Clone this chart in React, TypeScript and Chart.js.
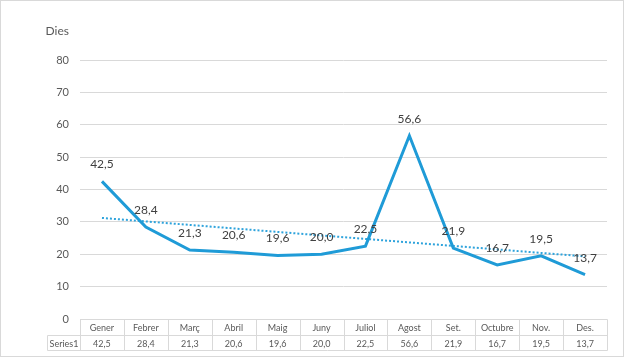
import React, { useEffect, useRef } from "react";
import { Chart, registerables } from "chart.js";

Chart.register(...registerables);

const categories = ["Gener", "Febrer", "Març", "Abril", "Maig", "Juny", "Juliol", "Agost", "Set.", "Octubre", "Nov.", "Des."];
const seriesName = "Series1";
const values = [42.5, 28.4, 21.3, 20.6, 19.6, 20.0, 22.5, 56.6, 21.9, 16.7, 19.5, 13.7];
const axisTitle = "Dies";
const yMin = 0;
const yMax = 80;
const yStep = 10;

const FONT = "Lato, 'Open Sans', sans-serif";
const LINE_COLOR = "#1f9bd7";
const GRID = "#d9d9d9";
const TEXT = "#595959";

const fmt = (v: number) => v.toFixed(1).replace(".", ",");

// linear least-squares trend of the series (Excel linear trendline)
function linearTrend(ys: number[]): number[] {
  const n = ys.length;
  const mx = (n + 1) / 2;
  const my = ys.reduce((a, b) => a + b, 0) / n;
  let sxy = 0, sxx = 0;
  ys.forEach((y, i) => {
    const dx = i + 1 - mx;
    sxy += dx * (y - my);
    sxx += dx * dx;
  });
  const slope = sxy / sxx;
  return ys.map((_, i) => my + slope * (i + 1 - mx));
}

const extrasPlugin = {
  id: "extras",
  afterDraw(chart: any) {
    const ctx = chart.ctx as CanvasRenderingContext2D;
    const area = chart.chartArea;
    const n = categories.length;
    const w = (area.right - area.left) / n;
    const top = Math.round(area.bottom) + 0.5;
    const mid = top + 16;
    const bot = mid + 15;
    const labelLeft = 46.5;
    ctx.save();
    // data labels
    const meta = chart.getDatasetMeta(0);
    ctx.font = `12px ${FONT}`;
    ctx.fillStyle = "#404040";
    ctx.textAlign = "center";
    ctx.textBaseline = "middle";
    meta.data.forEach((pt: any, i: number) => {
      ctx.fillText(fmt(values[i]), pt.x, pt.y - 17);
    });
    // axis title
    ctx.font = `12px ${FONT}`;
    ctx.fillStyle = TEXT;
    ctx.textAlign = "right";
    ctx.fillText(axisTitle, 68, 30);
    // data table
    ctx.strokeStyle = GRID;
    ctx.lineWidth = 1;
    ctx.beginPath();
    const L = Math.round(area.left) + 0.5;
    const R = Math.round(area.right) + 0.5;
    ctx.moveTo(L, top); ctx.lineTo(R, top);
    ctx.moveTo(labelLeft, mid); ctx.lineTo(R, mid);
    ctx.moveTo(labelLeft, bot); ctx.lineTo(R, bot);
    ctx.moveTo(labelLeft, mid); ctx.lineTo(labelLeft, bot);
    for (let i = 0; i <= n; i++) {
      const x = Math.round(area.left + i * w) + 0.5;
      ctx.moveTo(x, top); ctx.lineTo(x, bot);
    }
    ctx.stroke();
    ctx.font = `9px ${FONT}`;
    ctx.fillStyle = TEXT;
    ctx.textAlign = "center";
    categories.forEach((c, i) => {
      const cx = area.left + (i + 0.5) * w;
      ctx.fillText(c, cx, (top + mid) / 2 + 1);
      ctx.fillText(fmt(values[i]), cx, (mid + bot) / 2 + 1);
    });
    ctx.fillText(seriesName, (labelLeft + L) / 2, (mid + bot) / 2 + 1);
    ctx.restore();
  },
};

export default function App() {
  const ref = useRef<HTMLCanvasElement>(null);
  useEffect(() => {
    if (!ref.current) return;
    const trend = linearTrend(values);
    const chart = new Chart(ref.current, {
      type: "line",
      data: {
        labels: categories,
        datasets: [
          {
            label: seriesName,
            data: values,
            borderColor: LINE_COLOR,
            borderWidth: 3,
            pointRadius: 0,
            tension: 0,
            fill: false,
          },
          {
            label: "trend",
            data: trend,
            borderColor: "#2ea3dc",
            borderWidth: 2,
            borderDash: [2, 2],
            pointRadius: 0,
            fill: false,
          },
        ],
      },
      options: {
        animation: false,
        responsive: false,
        layout: { padding: { left: 0, right: 16, top: 59, bottom: 37 } },
        plugins: { legend: { display: false }, tooltip: { enabled: false } },
        scales: {
          x: { display: false, offset: true },
          y: {
            min: yMin,
            max: yMax,
            ticks: { stepSize: yStep, padding: 11, color: TEXT, font: { size: 11, family: FONT } },
            grid: { color: GRID, drawTicks: false },
            border: { display: false },
            afterFit: (s: any) => { s.width = 79; },
          },
        },
      },
      plugins: [extrasPlugin],
    });
    return () => chart.destroy();
  }, []);
  return (
    <div style={{ position: "fixed", left: 0, top: 0, width: 624, height: 357, boxSizing: "border-box", border: "1px solid #d9d9d9", background: "#fff" }}>
      <canvas ref={ref} width={622} height={355} style={{ display: "block" }} />
    </div>
  );
}
